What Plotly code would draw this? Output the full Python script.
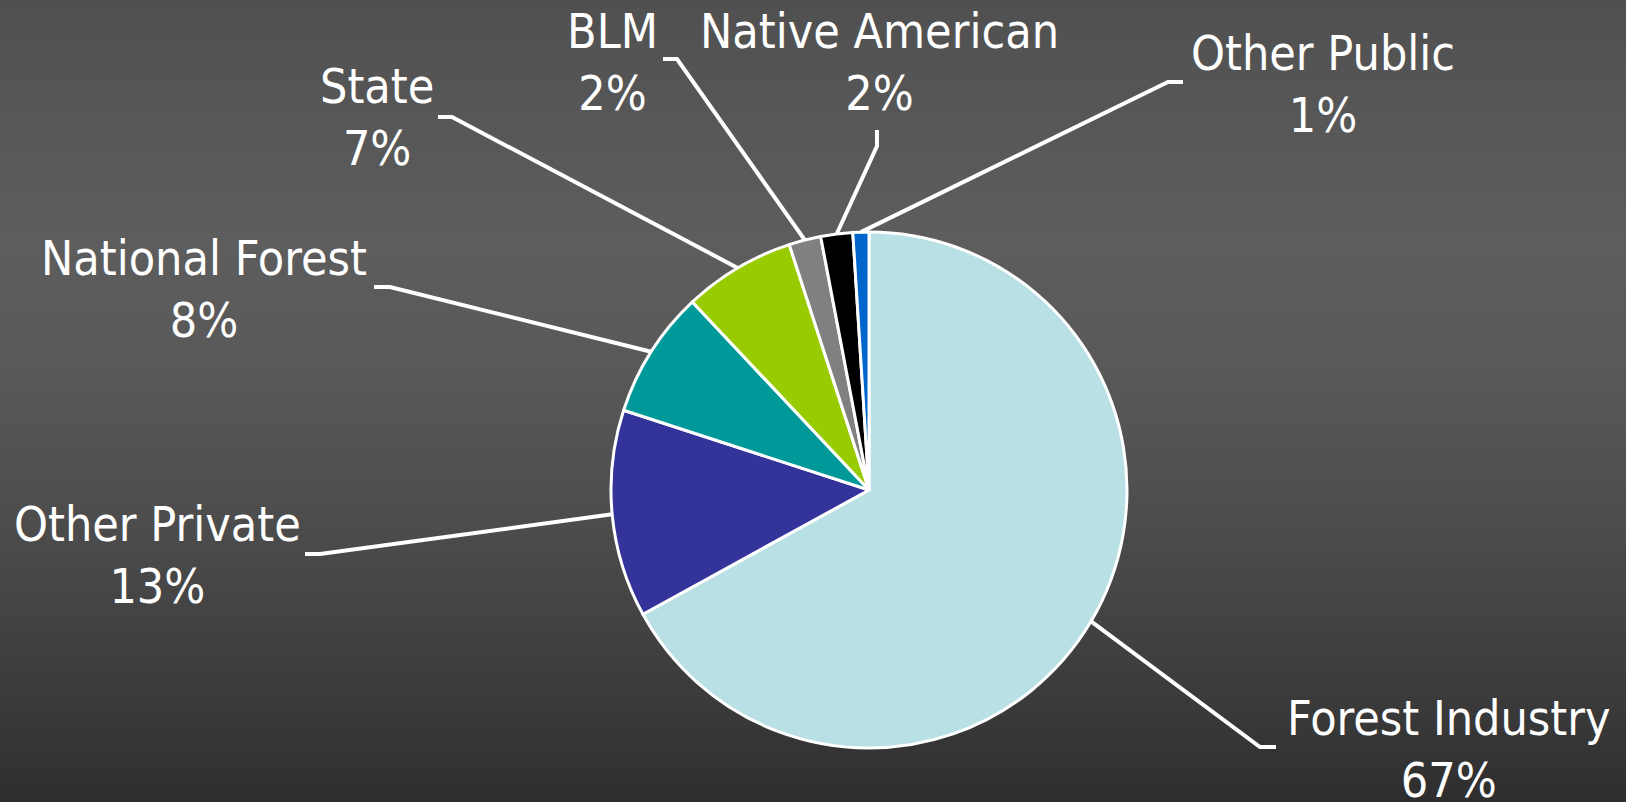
import math
import plotly.graph_objects as go

W, H = 1626, 802

# Ownership shares (percent)
owners = ["Forest Industry", "Other Private", "National Forest", "State",
          "BLM", "Native American", "Other Public"]
shares = [67, 13, 8, 7, 2, 2, 1]
slice_colors = ["#B9E0E4", "#333399", "#009999", "#99CC00",
                "#808080", "#000000", "#0066CC"]

# Pie placement in pixels
PIE_CX, PIE_CY, PIE_R = 869, 490, 258

# Label anchors (pixels): centre x, vertical middle of the two-line label
label_xy = [(1449, 749), (157, 555), (204, 289), (377, 117),
            (612, 62), (879, 62), (1323, 84)]
# Leader-line elbows (pixels): bend point, then the short tail toward the label
elbows = [((1260, 747), (1276, 747)), ((320, 554), (305, 554)),
          ((390, 287), (374, 287)), ((452, 117), (438, 117)),
          ((677, 59), (663, 59)), ((877, 146), (877, 130)),
          ((1168, 82), (1183, 82))]

# Vertical background shading: pixel row -> grey level
grad_rows = [0, 120, 240, 360, 480, 600, 720, 802]
grad_grey = [0x50, 0x57, 0x5D, 0x59, 0x50, 0x45, 0x38, 0x2E]

FONT = "DejaVu Sans Condensed, DejaVu Sans, sans-serif"
FONT_SIZE = 48


def px(x):
    return x / W


def py(y):
    return 1 - y / H


fig = go.Figure()

# background gradient as a smooth heatmap filling the whole page
fig.add_trace(go.Heatmap(
    x=[0, W], y=grad_rows, z=[[g, g] for g in grad_grey],
    zmin=0, zmax=255, colorscale=[[0, "black"], [1, "white"]],
    zsmooth="best", showscale=False, hoverinfo="skip",
))

fig.add_trace(go.Pie(
    labels=owners, values=shares, sort=False, direction="clockwise",
    rotation=0, textinfo="none", hoverinfo="label+percent",
    marker=dict(colors=slice_colors, line=dict(color="white", width=3)),
    domain=dict(x=[px(PIE_CX - PIE_R), px(PIE_CX + PIE_R)],
                y=[py(PIE_CY + PIE_R), py(PIE_CY - PIE_R)]),
    showlegend=False,
))

total = sum(shares)
shapes = []
annotations = []
cum = 0
for name, v, (lx, ly), (bend, tail) in zip(owners, shares, label_xy, elbows):
    theta = 2 * math.pi * (cum + v / 2) / total
    cum += v
    sx = PIE_CX + PIE_R * math.sin(theta)
    sy = PIE_CY - PIE_R * math.cos(theta)
    path = (f"M {px(sx)},{py(sy)} L {px(bend[0])},{py(bend[1])} "
            f"L {px(tail[0])},{py(tail[1])}")
    shapes.append(dict(type="path", xref="paper", yref="paper", path=path,
                       line=dict(color="white", width=4), layer="above"))
    pct = round(100 * v / total)
    annotations.append(dict(
        x=px(lx), y=py(ly), xref="paper", yref="paper",
        xanchor="center", yanchor="middle", showarrow=False, align="center",
        text=f"{name}<br>{pct}%",
        font=dict(family=FONT, size=FONT_SIZE, color="white"),
    ))

fig.update_layout(
    width=W, height=H,
    margin=dict(l=0, r=0, t=0, b=0),
    paper_bgcolor="#3a3a3a", plot_bgcolor="#3a3a3a",
    xaxis=dict(range=[0, W], visible=False, domain=[0, 1], fixedrange=True),
    yaxis=dict(range=[H, 0], visible=False, domain=[0, 1], fixedrange=True),
    shapes=shapes, annotations=annotations,
)

fig.write_html("out.html")
